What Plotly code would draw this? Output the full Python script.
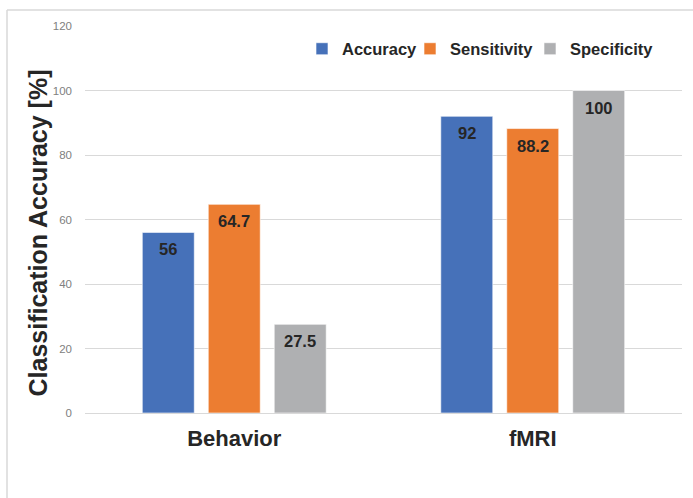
import plotly.graph_objects as go

categories = ["Behavior", "fMRI"]
accuracy = [56, 92]
sensitivity = [64.7, 88.2]
specificity = [27.5, 100]
series_names = ["Accuracy", "Sensitivity", "Specificity"]
colors = ["#4671B9", "#EC7D31", "#AFB0B2"]
legend_ids = ["legend", "legend2", "legend3"]
y_ticks = [0, 20, 40, 60, 80, 100, 120]

BARGAP = 0.337
GROUPGAP = 0.212
series = [accuracy, sensitivity, specificity]
n = len(series)
slot = (1 - BARGAP) / n

fig = go.Figure()
for i, (name, vals, col, lg) in enumerate(zip(series_names, series, colors, legend_ids)):
    fig.add_trace(go.Bar(
        name="<b>" + name + "</b>", x=categories, y=vals, legend=lg,
        marker=dict(color=col, line=dict(color="rgba(255,255,255,0.6)", width=1)),
    ))
    for ci, v in enumerate(vals):
        fig.add_annotation(
            x=ci + (i - (n - 1) / 2) * slot, y=v, xref="x", yref="y",
            text="<b>%s</b>" % v, showarrow=False, yanchor="top", yshift=-6,
            font=dict(family="Liberation Sans, Arial", size=16.5, color="#262626"),
        )

L, R, T, B = 85, 11, 26, 85
W, H = 693, 498
pw = W - L - R
ph = H - T - B

legend_font = dict(size=16.5, color="#262626", family="Liberation Sans, Arial")
legend_x = [302, 410, 530]
legends = {}
for lg, lx in zip(legend_ids, legend_x):
    legends[lg] = dict(orientation="h", x=(lx - L) / pw, y=1 - (49 - T) / ph,
                       xanchor="left", yanchor="middle", font=legend_font,
                       itemwidth=30, bgcolor="rgba(0,0,0,0)")

fig.update_layout(
    width=W, height=H,
    margin=dict(l=L, r=R, t=T, b=B, pad=0),
    paper_bgcolor="white", plot_bgcolor="white",
    barmode="group", bargap=BARGAP, bargroupgap=GROUPGAP,
    font=dict(family="Liberation Sans, Arial"),
    xaxis=dict(showgrid=False, showline=True, linecolor="#d9d9d9", linewidth=1,
               automargin=False,
               tickfont=dict(size=22, color="#262626", family="Liberation Sans, Arial"),
               ticklabelstandoff=6, tickprefix="<b>", ticksuffix="</b>"),
    yaxis=dict(range=[0, 120], tickvals=y_ticks, showgrid=True, gridcolor="#d9d9d9",
               gridwidth=1, zeroline=False, showline=False, automargin=False,
               tickfont=dict(size=11.5, color="#808080"), ticklabelstandoff=12),
    showlegend=True,
    **legends,
)

fig.add_annotation(
    text="<b>Classification Accuracy [%]</b>", xref="paper", yref="paper",
    x=(37.5 - L) / pw, y=1 - (233 - T) / ph, xanchor="center", yanchor="middle",
    textangle=-90, showarrow=False,
    font=dict(family="Liberation Sans, Arial", size=25, color="#262626"),
)

fig.add_shape(type="line", xref="paper", yref="paper",
              x0=(7 - L) / pw, x1=(W - L) / pw,
              y0=1 + (T - 10) / ph, y1=1 + (T - 10) / ph,
              line=dict(color="#d9d9d9", width=1.5))
fig.add_shape(type="line", xref="paper", yref="paper",
              x0=(7 - L) / pw, x1=(7 - L) / pw,
              y0=1 + (T - 10) / ph, y1=-(B + 5) / ph,
              line=dict(color="#d9d9d9", width=1.5))

fig.write_html("out.html", config={"displayModeBar": False},
               post_script="document.body.style.margin='0';")
